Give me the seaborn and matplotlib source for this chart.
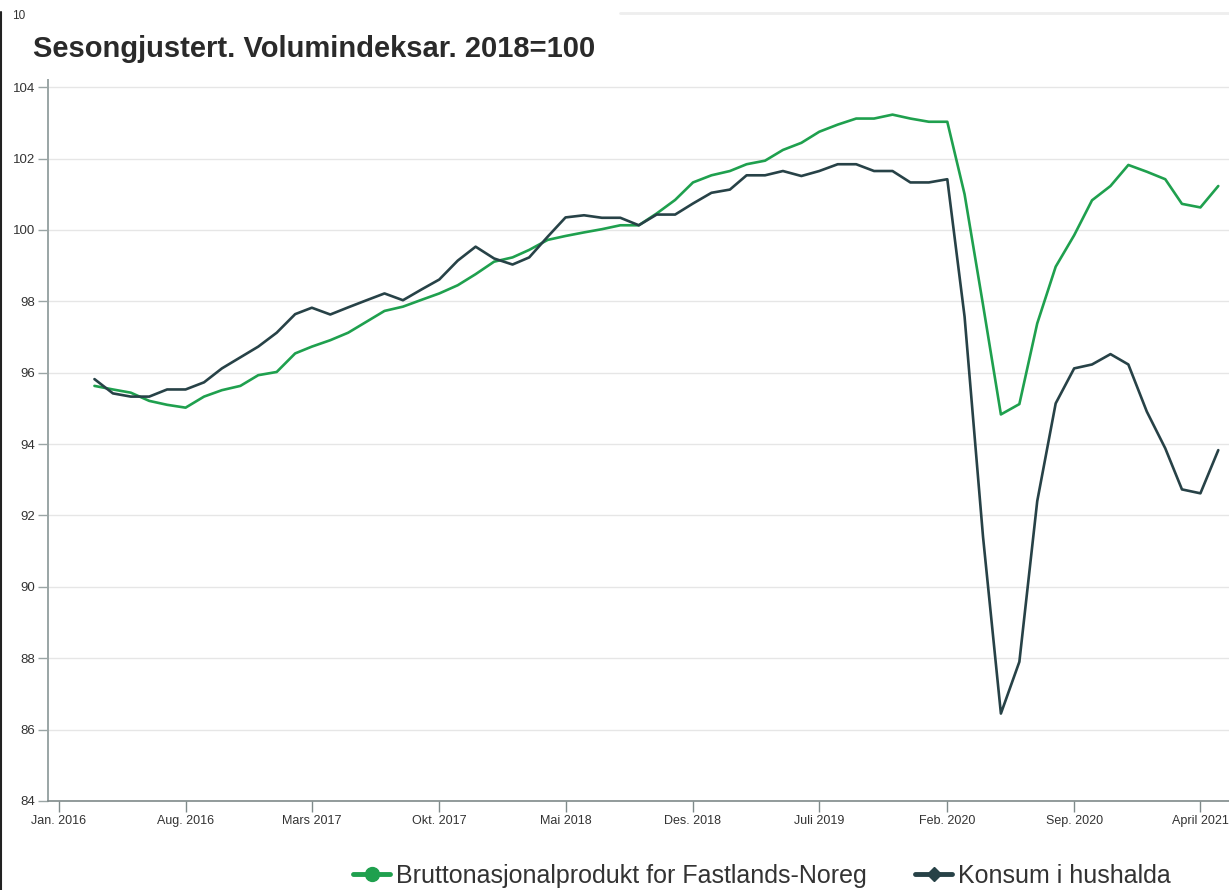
import numpy as np
import pandas as pd
import matplotlib
matplotlib.use("Agg")
import matplotlib.pyplot as plt
import matplotlib.transforms as mtransforms
from matplotlib.lines import Line2D
import seaborn as sns

# ---------------- data ----------------
months = pd.date_range("2016-03-01", "2021-05-01", freq="MS")

bnp_fastland = [
    95.63, 95.53, 95.44, 95.21, 95.10, 95.02, 95.33, 95.51, 95.63, 95.93,
    96.02, 96.54, 96.73, 96.91, 97.12, 97.43, 97.73, 97.85, 98.04, 98.22, 98.45, 98.76,
    99.11, 99.23, 99.44, 99.72, 99.83, 99.93, 100.02, 100.13, 100.13, 100.46, 100.84, 101.33,
    101.53, 101.65, 101.84, 101.94, 102.24, 102.44, 102.75, 102.95, 103.12, 103.12, 103.23, 103.12,
    103.03, 103.03, 101.00, 97.90, 94.83, 95.12, 97.38, 98.97, 99.85, 100.83, 101.23, 101.82,
    101.63, 101.42, 100.73, 100.63, 101.23,
]

konsum = [
    95.82, 95.42, 95.33, 95.33, 95.53, 95.53, 95.73, 96.12, 96.43, 96.73,
    97.12, 97.64, 97.82, 97.63, 97.83, 98.03, 98.22, 98.03, 98.33, 98.61, 99.14, 99.53,
    99.20, 99.03, 99.23, 99.81, 100.35, 100.41, 100.34, 100.34, 100.13, 100.43, 100.43, 100.74,
    101.04, 101.13, 101.53, 101.53, 101.65, 101.51, 101.65, 101.84, 101.84, 101.65, 101.65, 101.33,
    101.33, 101.42, 97.57, 91.40, 86.45, 87.90, 92.40, 95.14, 96.12, 96.23, 96.52, 96.23,
    94.91, 93.88, 92.73, 92.62, 93.83,
]

series_names = ["Bruttonasjonalprodukt for Fastlands-Noreg", "Konsum i hushalda"]
series_colors = ["#1fa04e", "#274247"]

tick_dates = ["2016-01-01", "2016-08-01", "2017-03-01", "2017-10-01", "2018-05-01",
              "2018-12-01", "2019-07-01", "2020-02-01", "2020-09-01", "2021-04-01"]
tick_labels = ["Jan. 2016", "Aug. 2016", "Mars 2017", "Okt. 2017", "Mai 2018",
               "Des. 2018", "Juli 2019", "Feb. 2020", "Sep. 2020", "April 2021"]
y_ticks = [84, 86, 88, 90, 92, 94, 96, 98, 100, 102, 104]

title = "Sesongjustert. Volumindeksar. 2018=100"

# ---------------- frame ----------------
df = pd.DataFrame({
    "dato": list(months) * 2,
    "verdi": bnp_fastland + konsum,
    "serie": [series_names[0]] * len(months) + [series_names[1]] * len(months),
})

sns.set_theme(style="white")
plt.rcParams["font.family"] = ["Liberation Sans", "DejaVu Sans"]

W, H = 1229, 890
fig = plt.figure(figsize=(W / 100, H / 100), dpi=100)
ax = fig.add_axes([48 / W, 1 - 801 / H, 1 - 48 / W, (801 - 80) / H])

sns.lineplot(data=df, x="dato", y="verdi", hue="serie", hue_order=series_names,
             palette=series_colors, linewidth=1.9, ax=ax, legend=False)

ax.set_ylim(84, 104.2)
ax.set_xlim(pd.Timestamp("2015-12-14"), pd.Timestamp("2021-05-19"))
ax.set_yticks(y_ticks)
ax.set_yticklabels([str(v) for v in y_ticks], fontsize=9.5, color="#333333")
ax.set_xticks([pd.Timestamp(d) for d in tick_dates])
ax.set_xticklabels(tick_labels, fontsize=9, color="#333333")
ax.set_xlabel("")
ax.set_ylabel("")

# keep the last label inside the picture, as in the reference
last = ax.get_xticklabels()[-1]
last.set_transform(last.get_transform() +
                   mtransforms.ScaledTranslation(-6 / 100, 0, fig.dpi_scale_trans))

ax.grid(axis="y", color="#e6e6e6", linewidth=1.0)
ax.grid(axis="x", visible=False)
ax.set_axisbelow(True)

for s in ["top", "right"]:
    ax.spines[s].set_visible(False)
ax.spines["left"].set_color("#9aa5a5")
ax.spines["left"].set_linewidth(1.4)
ax.spines["bottom"].set_color("#7f8a8a")
ax.spines["bottom"].set_linewidth(1.2)
ax.tick_params(axis="y", length=7, width=1, color="#9aa5a5", pad=2, left=True)
ax.tick_params(axis="x", length=8, width=1, color="#7f8a8a", pad=2, bottom=True)

# title
fig.text(33 / W, 1 - 57 / H, title, fontsize=21, fontweight="bold",
         color="#2a2a2a", ha="left", va="baseline")

# stray cut-off label at top-left
fig.text(12 / W, 1 - 19 / H, "10", fontsize=8.5, color="#333333", ha="left", va="baseline")

# screenshot frame lines
fig.add_artist(Line2D([1 / W, 1 / W], [0, 1 - 12 / H], transform=fig.transFigure,
                      color="#222222", linewidth=1.5))
fig.add_artist(Line2D([620 / W, 1], [1 - 13 / H, 1 - 13 / H], transform=fig.transFigure,
                      color="#eeeeee", linewidth=2))

# legend
handles = [
    Line2D([0], [0], color=series_colors[0], linewidth=3.5, marker="o", markersize=10),
    Line2D([0], [0], color=series_colors[1], linewidth=3.5, marker="D", markersize=7),
]
fig.legend(handles, series_names, loc="center", bbox_to_anchor=(762 / W, 1 - 876 / H),
           ncol=2, frameon=False, fontsize=18, handlelength=1.5, handletextpad=0.25,
           columnspacing=1.9, labelcolor="#333333", borderaxespad=0, borderpad=0)

fig.savefig("out.png", dpi=100)
